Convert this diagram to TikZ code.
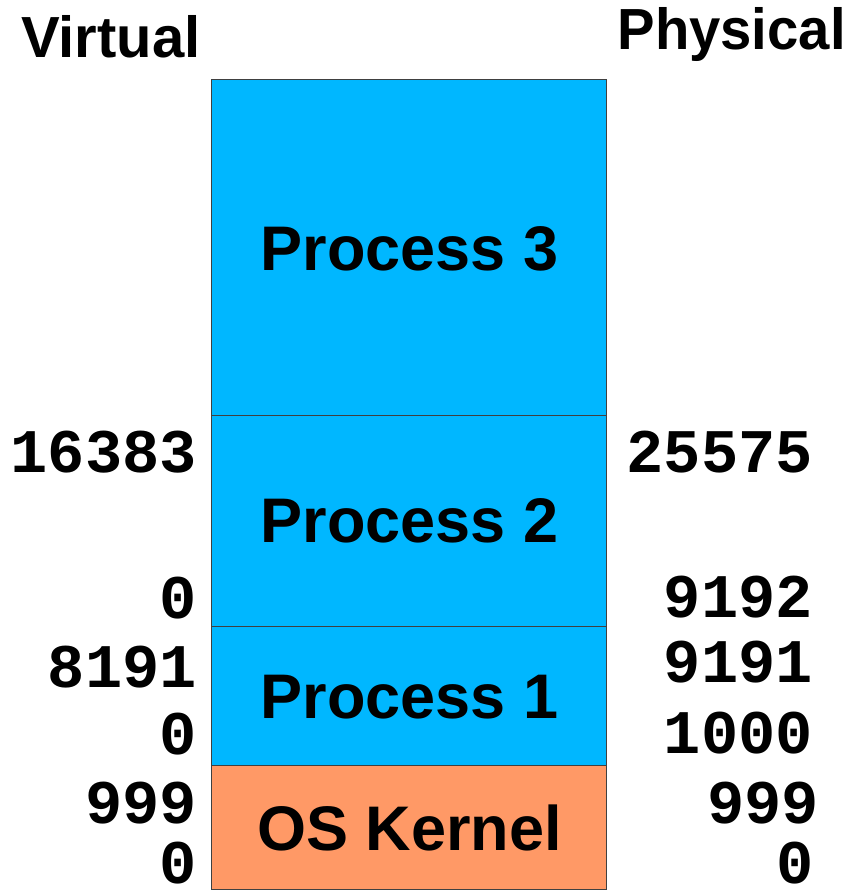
\documentclass[tikz,border=0pt]{standalone}
\usepackage{fontspec}
\setmainfont{Liberation Sans}
\newfontfamily\monofam{Liberation Mono}
\definecolor{procblue}{HTML}{00B7FF}
\definecolor{kernorange}{HTML}{FF9966}
\definecolor{edgegray}{HTML}{404040}
\begin{document}
\begin{tikzpicture}[x=1pt,y=-1pt,
  seg/.style={draw=edgegray,line width=0.9pt},
  seglabel/.style={font=\fontsize{63}{63}\selectfont\bfseries,inner sep=0pt},
  heading/.style={font=\fontsize{58}{58}\selectfont\bfseries,inner sep=0pt},
  addr/.style={font=\fontsize{62}{62}\selectfont\monofam\bfseries,inner sep=0pt,anchor=east}]
\useasboundingbox (0,0) rectangle (848,891);
% memory segments
\fill[procblue] (211,79) rectangle (606,765);
\fill[kernorange] (211,765) rectangle (606,889);
\draw[seg] (211,79) rectangle (606,889);
\draw[seg] (211,415) -- (606,415);
\draw[seg] (211,626) -- (606,626);
\draw[seg] (211,765) -- (606,765);
\node[seglabel] (p3) at (409.5,249) {Process 3};
\node[seglabel] (p2) at (409.5,521) {Process 2};
\node[seglabel] (p1) at (409.5,697) {Process 1};
\node[seglabel] (os) at (409.5,828) {OS Kernel};
% headings
\node[heading,anchor=base west] (virt) at (21,57) {Virtual};
\node[heading,anchor=base east,xscale=0.97] (phys) at (846,50) {Physical};
% virtual addresses
\node[addr] (v1) at (197,452) {16383};
\node[addr] (v2) at (197,598) {0};
\node[addr] (v3) at (197,667) {8191};
\node[addr] (v4) at (197,734) {0};
\node[addr] (v5) at (197,803) {999};
\node[addr] (v6) at (197,863) {0};
% physical addresses
\node[addr] (ph1) at (813,452) {25575};
\node[addr] (ph2) at (813,597) {9192};
\node[addr] (ph3) at (813,662) {9191};
\node[addr] (ph4) at (813,733) {1000};
\node[addr] (ph5) at (819,803) {999};
\node[addr] (ph6) at (814,863) {0};
\end{tikzpicture}
\end{document}
